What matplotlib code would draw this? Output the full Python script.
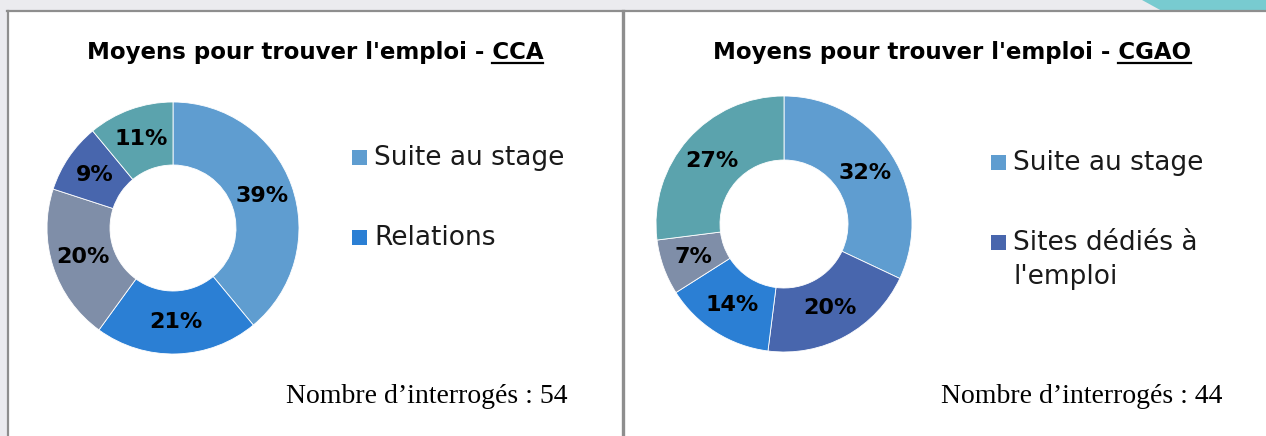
import matplotlib
matplotlib.use("Agg")
import matplotlib.pyplot as plt
from matplotlib.patches import Rectangle, Polygon
from matplotlib.lines import Line2D

W, H = 1266, 436

# data
cca_values = [39, 21, 20, 9, 11]
cca_colors = ["#5f9dd0", "#2b7fd4", "#7f8ea8", "#4866ad", "#5ba3ad"]
cca_legend = ["Suite au stage", "Relations"]
cca_legend_idx = [0, 1]
cca_n = 54

cgao_values = [32, 20, 14, 7, 27]
cgao_colors = ["#5f9dd0", "#4866ad", "#2b7fd4", "#7f8ea8", "#5ba3ad"]
cgao_legend = ["Suite au stage", "Sites dédiés à\nl'emploi"]
cgao_legend_idx = [0, 1]
cgao_n = 44

sans = ["DejaVu Sans"]
serif = ["Liberation Serif"]


def px(x, y):
    # pixel (from top-left) -> figure fraction
    return x / W, 1 - y / H


fig = plt.figure(figsize=(W / 100, H / 100), dpi=100)
fig.patch.set_facecolor("white")

# background frame
fig.add_artist(Rectangle((0, 1 - 11 / H), 1, 11 / H, transform=fig.transFigure,
                         facecolor="#ebebef", edgecolor="none"))
fig.add_artist(Rectangle((0, 0), 7 / W, 1, transform=fig.transFigure,
                         facecolor="#ebebef", edgecolor="none"))
fig.add_artist(Polygon([px(1142, 0), px(1266, 0), px(1266, 11), px(1162, 11)],
                       closed=True, transform=fig.transFigure,
                       facecolor="#78cbd0", edgecolor="none"))
for (x0, y0), (x1, y1), lw in [((7, 11), (1266, 11), 1.6),
                                ((8, 11), (8, 436), 1.6),
                                ((623, 11), (623, 436), 2.4)]:
    a, b = px(x0, y0)
    c, d = px(x1, y1)
    fig.add_artist(Line2D([a, c], [b, d], transform=fig.transFigure,
                          color="#8e8e8e", lw=lw))


def donut(cx, cy, r, values, colors):
    left, bottom = px(cx - r, cy + r)
    ax = fig.add_axes([left, bottom, 2 * r / W, 2 * r / H])
    ax.pie(values, colors=colors, startangle=90, counterclock=False,
           radius=1, labels=[f"{v}%" for v in values],
           labeldistance=0.75,
           wedgeprops=dict(width=0.5, edgecolor="white", linewidth=0.6),
           textprops=dict(fontsize=16, fontweight="bold", family=sans,
                          ha="center", va="center"))
    ax.set_xlim(-1, 1)
    ax.set_ylim(-1, 1)
    ax.set_aspect("equal")
    ax.axis("off")
    return ax


def title(cx, y, prefix, name):
    fx, fy = px(cx, y)
    t = fig.text(fx, fy, prefix + name, ha="center", va="baseline",
                 fontsize=16.5, fontweight="bold", family=sans)
    fig.canvas.draw()
    r = fig.canvas.get_renderer()
    bb = t.get_window_extent(r)
    tmp = fig.text(0, 0, name, fontsize=16.5, fontweight="bold", family=sans)
    w = tmp.get_window_extent(r).width
    tmp.remove()
    ux0 = (bb.x1 - w) / W
    ux1 = bb.x1 / W
    uy = fy - 4 / H
    fig.add_artist(Line2D([ux0, ux1], [uy, uy], transform=fig.transFigure,
                          color="black", lw=1.6))


def legend(x, y, labels, idx, colors, step):
    # y = vertical centre of the first text line
    for i, (lab, k) in enumerate(zip(labels, idx)):
        yy = y + i * step
        a, b = px(x, yy + 7)
        fig.add_artist(Rectangle((a, b), 15 / W, 15 / H, transform=fig.transFigure,
                                 facecolor=colors[k], edgecolor="none"))
        tx, ty = px(x + 22, yy - 13)
        fig.text(tx, ty, lab, ha="left", va="top", fontsize=19, family=sans,
                 color="#1a1a1a", linespacing=1.4)


donut(173, 228, 126, cca_values, cca_colors)
donut(784, 224, 128, cgao_values, cgao_colors)

title(315, 59, "Moyens pour trouver l'emploi - ", "CCA")
title(952, 59, "Moyens pour trouver l'emploi - ", "CGAO")

legend(352, 158, cca_legend, cca_legend_idx, cca_colors, 80)
legend(991, 163, cgao_legend, cgao_legend_idx, cgao_colors, 80)

fx, fy = px(567, 403)
fig.text(fx, fy, f"Nombre d’interrogés : {cca_n}", ha="right", va="baseline",
         fontsize=20, family=serif)
fx, fy = px(1222, 403)
fig.text(fx, fy, f"Nombre d’interrogés : {cgao_n}", ha="right", va="baseline",
         fontsize=20, family=serif)

fig.savefig("out.png", dpi=100)
